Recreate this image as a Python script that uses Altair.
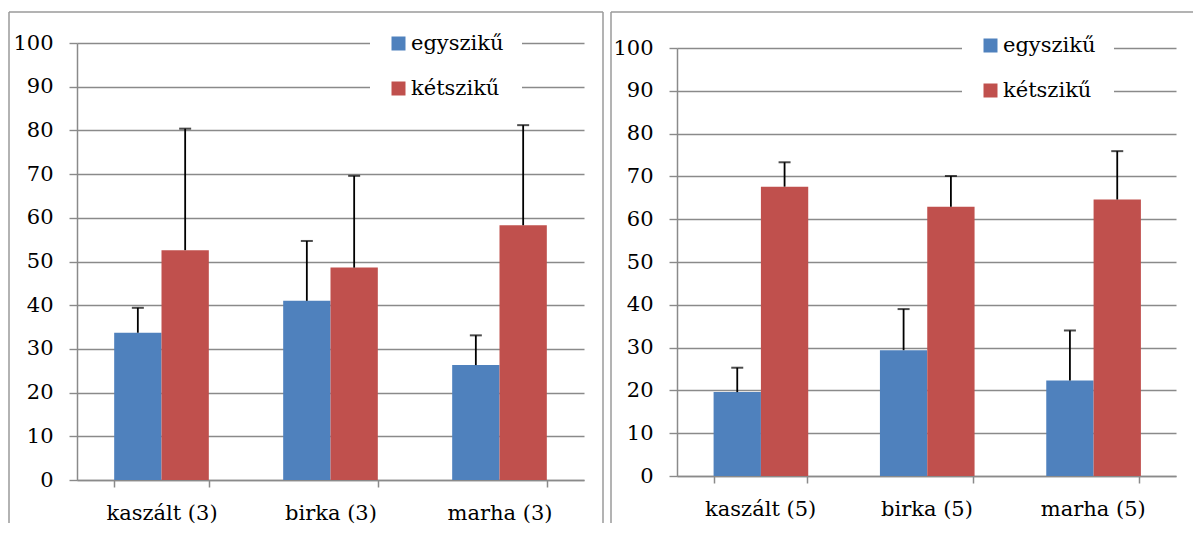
import altair as alt
import pandas as pd

types = ["egyszikű", "kétszikű"]
colors = ["#4F81BD", "#C0504D"]

sites_left = ["kaszált (3)", "birka (3)", "marha (3)"]
left_egy = [33.7, 41.0, 26.3]
left_egy_sd = [5.7, 13.7, 6.8]
left_ket = [52.6, 48.6, 58.3]
left_ket_sd = [27.8, 21.0, 22.9]

sites_right = ["kaszált (5)", "birka (5)", "marha (5)"]
right_egy = [19.6, 29.4, 22.3]
right_egy_sd = [5.7, 9.6, 11.7]
right_ket = [67.6, 62.9, 64.6]
right_ket_sd = [5.7, 7.2, 11.3]

y_ticks = list(range(0, 101, 10))

FONT = "DejaVu Serif"
FS = 21
GRID = "#8a8a8a"
FRAME = "#9a9a9a"


def frame_line(**kw):
    return alt.Chart(pd.DataFrame({"k": [0]})).mark_rule(
        color=FRAME, strokeWidth=1.5, clip=False
    ).encode(**{k: alt.value(v) for k, v in kw.items()})


def panel(sites, egy, egy_sd, ket, ket_sd, w, h, y_top, leg_x, leg_y, frame):
    df = pd.DataFrame({
        "site": sites * 2,
        "type": [types[0]] * len(sites) + [types[1]] * len(sites),
        "value": egy + ket,
        "sd": egy_sd + ket_sd,
    })
    df["upper"] = df["value"] + df["sd"]

    xenc = alt.X("site:N", sort=sites,
                 scale=alt.Scale(paddingInner=0.44, paddingOuter=0.22),
                 axis=alt.Axis(title=None, labelAngle=0, labelFont=FONT, labelFontSize=FS,
                               labelColor="black", tickBand="extent", tickSize=7,
                               tickColor=GRID, tickWidth=1.5, domainColor=GRID, domainWidth=1.5,
                               labelPadding=15, grid=False))
    xoff = alt.XOffset("type:N", sort=types, scale=alt.Scale(paddingInner=0, paddingOuter=0))
    yscale = alt.Scale(domain=[0, 100], nice=False, range=[h, y_top])

    base = alt.Chart(df).encode(x=xenc, xOffset=xoff)

    bars = base.mark_bar().encode(
        y=alt.Y("value:Q", scale=yscale,
                axis=alt.Axis(title=None, values=y_ticks, grid=True, gridColor=GRID, gridWidth=1.4,
                              tickSize=8, tickColor=GRID, tickWidth=1.4, domainColor=GRID,
                              domainWidth=1.5, labelFont=FONT, labelFontSize=FS,
                              labelColor="black", labelPadding=16)),
        color=alt.Color("type:N", scale=alt.Scale(domain=types, range=colors),
                        legend=alt.Legend(title=None, orient="none", legendX=leg_x, legendY=leg_y,
                                          fillColor="white", padding=18, symbolType="square",
                                          symbolSize=196, symbolStrokeWidth=0,
                                          labelFont=FONT, labelFontSize=FS, labelColor="black",
                                          labelOffset=2, rowPadding=23)),
    )
    rules = base.mark_rule(color="black", strokeWidth=1.8).encode(
        y=alt.Y("value:Q", scale=yscale), y2="upper:Q")
    caps = base.mark_tick(color="black", thickness=2, size=12).encode(
        y=alt.Y("upper:Q", scale=yscale))

    return alt.layer(*frame, bars, rules, caps).properties(width=w, height=h)


left_frame = [
    frame_line(x=-68, x2=526, y=-31),
    frame_line(x=-68, y=-31, y2=480),
    frame_line(x=526, y=-31, y2=480),
]
right_frame = [
    frame_line(x=-66, x2=516, y=-31),
    frame_line(x=-66, y=-31, y2=480),
]

left = panel(sites_left, left_egy, left_egy_sd, left_ket, left_ket_sd,
             507, 437, 0, 293, -28, left_frame)
right = panel(sites_right, right_egy, right_egy_sd, right_ket, right_ket_sd,
              499, 433, 5, 285, -26, right_frame)

chart = alt.hconcat(left, right, spacing=6).resolve_scale(color="independent").resolve_legend(
    color="independent"
).configure(padding={"left": 0, "top": 3, "right": 0, "bottom": 0}).configure_view(stroke=None)

chart.save("out.html", embed_options={"renderer": "svg", "actions": False})
